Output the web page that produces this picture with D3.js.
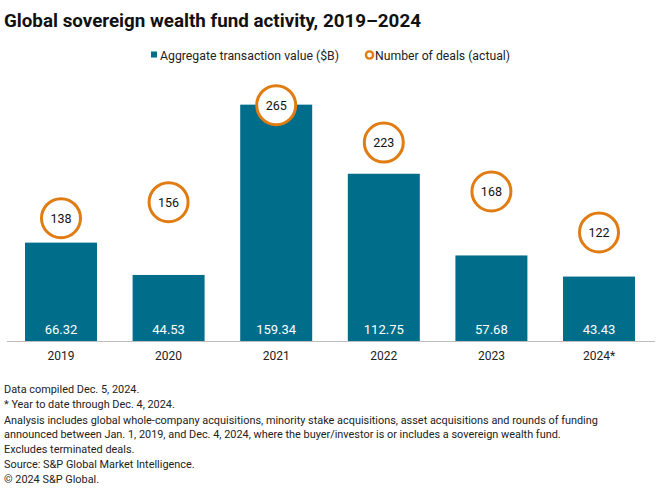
<!DOCTYPE html>
<html>
<head>
<meta charset="utf-8">
<script src="https://cdn.jsdelivr.net/npm/d3@7"></script>
<style>
  body { margin: 0; background: #fff; }
  svg { font-family: Roboto, "Liberation Sans", sans-serif; }
</style>
</head>
<body>
<svg></svg>
<script>
const years = ["2019", "2020", "2021", "2022", "2023", "2024*"];
const values = [66.32, 44.53, 159.34, 112.75, 57.68, 43.43];
const deals = [138, 156, 265, 223, 168, 122];
const notes = [
    "Data compiled Dec. 5, 2024.",
    "* Year to date through Dec. 4, 2024.",
    "Analysis includes global whole-company acquisitions, minority stake acquisitions, asset acquisitions and rounds of funding",
    "announced between Jan. 1, 2019, and Dec. 4, 2024, where the buyer/investor is or includes a sovereign wealth fund.",
    "Excludes terminated deals.",
    "Source: S&P Global Market Intelligence.",
    "\u00a9 2024 S&P Global."
];
const noteY = [393, 408, 424, 438, 453, 468, 483];

const barColor = "#006e8a";
const ringColor = "#e07c12";

const svg = d3.select("svg")
    .attr("width", 660)
    .attr("height", 496);

// title
svg.append("text")
    .attr("x", 4)
    .attr("y", 27)
    .attr("font-size", 18.8)
    .attr("font-weight", "bold")
    .attr("fill", "#111")
    .text("Global sovereign wealth fund activity, 2019\u20132024");

// legend
svg.append("rect")
    .attr("x", 151).attr("y", 51.5).attr("width", 6).attr("height", 6)
    .attr("fill", barColor);
svg.append("text")
    .attr("x", 160).attr("y", 59.5)
    .attr("font-size", 12).attr("fill", "#222")
    .attr("textLength", 179)
    .attr("lengthAdjust", "spacingAndGlyphs")
    .text("Aggregate transaction value ($B)");
svg.append("circle")
    .attr("cx", 369.5).attr("cy", 55).attr("r", 3.6)
    .attr("fill", "#fff").attr("stroke", ringColor).attr("stroke-width", 2.4);
svg.append("text")
    .attr("x", 375).attr("y", 59.5)
    .attr("font-size", 12).attr("fill", "#222")
    .attr("textLength", 135)
    .attr("lengthAdjust", "spacingAndGlyphs")
    .text("Number of deals (actual)");

// scales
const x = d3.scaleBand()
    .domain(years)
    .range([25, 635])
    .paddingInner(0.331)
    .paddingOuter(0);

const y = d3.scaleLinear()
    .domain([0, 180])
    .range([341, 74]);

const y2 = d3.scaleLinear()
    .domain([0, 300])
    .range([341, 74]);

// bars
svg.selectAll("rect.bar")
    .data(values)
    .join("rect")
    .attr("class", "bar")
    .attr("x", function(d, i) { return x(years[i]); })
    .attr("y", function(d) { return y(d); })
    .attr("width", x.bandwidth())
    .attr("height", function(d) { return y(0) - y(d); })
    .attr("fill", barColor);

// value labels inside bars
svg.selectAll("text.val")
    .data(values)
    .join("text")
    .attr("class", "val")
    .attr("x", function(d, i) { return x(years[i]) + x.bandwidth() / 2; })
    .attr("y", 333.5)
    .attr("text-anchor", "middle")
    .attr("font-size", 13)
    .attr("fill", "#fff")
    .text(function(d) { return d.toFixed(2); });

// x axis
const xAxis = svg.append("g")
    .attr("transform", "translate(0,341)")
    .call(d3.axisBottom(x).tickSize(0).tickPadding(10));
xAxis.select(".domain")
    .attr("stroke", "#bdbdbd")
    .attr("stroke-width", 1.2)
    .attr("d", "M7,0.5H655");
xAxis.selectAll("text")
    .attr("font-size", 12)
    .attr("font-family", "Roboto, 'Liberation Sans', sans-serif")
    .attr("fill", "#222");

// deal circles
svg.selectAll("circle.deal")
    .data(deals)
    .join("circle")
    .attr("class", "deal")
    .attr("cx", function(d, i) { return x(years[i]) + x.bandwidth() / 2; })
    .attr("cy", function(d) { return y2(d); })
    .attr("r", 19.5)
    .attr("fill", "#fff")
    .attr("stroke", ringColor)
    .attr("stroke-width", 3);

svg.selectAll("text.deal")
    .data(deals)
    .join("text")
    .attr("class", "deal")
    .attr("x", function(d, i) { return x(years[i]) + x.bandwidth() / 2; })
    .attr("y", function(d) { return y2(d) + 4.5; })
    .attr("text-anchor", "middle")
    .attr("font-size", 12.5)
    .attr("fill", "#111")
    .text(function(d) { return d; });

// footnotes
svg.selectAll("text.note")
    .data(notes)
    .join("text")
    .attr("class", "note")
    .attr("x", 4)
    .attr("y", function(d, i) { return noteY[i]; })
    .attr("font-size", 10.9)
    .attr("fill", "#222")
    .text(function(d) { return d; });
</script>
</body>
</html>
